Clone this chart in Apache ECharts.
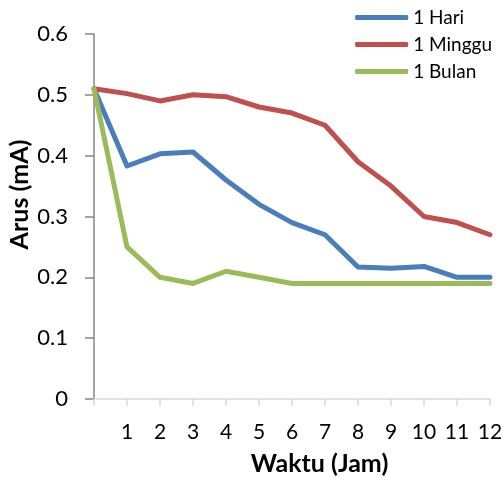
<!DOCTYPE html>
<html>
<head>
<meta charset="utf-8">
<script src="https://cdn.jsdelivr.net/npm/echarts@6/dist/echarts.min.js"></script>
<style>
  html, body { margin: 0; padding: 0; background: #fff; }
  #chart { width: 503px; height: 478px; }
</style>
</head>
<body>
<div id="chart"></div>
<script>
// Hours after start (x) and measured current in mA for each storage period
const hours = [0, 1, 2, 3, 4, 5, 6, 7, 8, 9, 10, 11, 12];
const hari   = [0.51, 0.383, 0.403, 0.406, 0.36, 0.32, 0.29, 0.27, 0.217, 0.215, 0.218, 0.20, 0.20];
const minggu = [0.51, 0.502, 0.49, 0.50, 0.497, 0.48, 0.47, 0.45, 0.39, 0.35, 0.30, 0.29, 0.27];
const bulan  = [0.51, 0.25, 0.20, 0.19, 0.21, 0.20, 0.19, 0.19, 0.19, 0.19, 0.19, 0.19, 0.19];
const seriesNames = ['1 Hari', '1 Minggu', '1 Bulan'];
const yTicks = [0, 0.1, 0.2, 0.3, 0.4, 0.5, 0.6];

const FONT = 'Lato, "Open Sans", sans-serif';
const colors = ['#4A7EBB', '#C0504D', '#9BBB59'];

function pairs(ys) { return hours.map((h, i) => [h, ys[i]]); }

const chart = echarts.init(document.getElementById('chart'));
chart.setOption({
  animation: false,
  color: colors,
  textStyle: { fontFamily: FONT },
  grid: { left: 94, right: 13, top: 34, bottom: 79, containLabel: false, outerBoundsMode: 'none' },
  legend: {
    orient: 'vertical',
    right: 11,
    top: 8,
    padding: 0,
    itemWidth: 53,
    itemHeight: 5,
    itemGap: 8,
    icon: 'roundRect',
    textStyle: { fontSize: 19, color: '#000', fontFamily: FONT },
    data: seriesNames
  },
  xAxis: {
    type: 'value',
    min: 0, max: 12, interval: 1,
    name: 'Waktu (Jam)',
    nameLocation: 'middle',
    nameGap: 52,
    nameMoveOverlap: false,
    nameTextStyle: { fontSize: 25, fontWeight: 'bold', color: '#000', padding: [0, 0, 0, 55] },
    axisLine: { show: true, lineStyle: { color: '#D9D9D9', width: 1.5 } },
    axisTick: { show: true, length: 7, lineStyle: { color: '#D9D9D9', width: 1.5 } },
    axisLabel: {
      fontSize: 21, color: '#000', margin: 23,
      formatter: v => (v === 0 ? '' : String(v))
    },
    splitLine: { show: false }
  },
  yAxis: {
    type: 'value',
    min: yTicks[0], max: yTicks[yTicks.length - 1], interval: 0.1,
    name: 'Arus (mA)',
    nameLocation: 'middle',
    nameGap: 62,
    nameMoveOverlap: false,
    nameRotate: 90,
    nameTextStyle: { fontSize: 25, fontWeight: 'bold', color: '#000', padding: [0, 0, 0, 44] },
    axisLine: { show: true, lineStyle: { color: '#868686', width: 1.5 } },
    axisTick: { show: true, length: 9, lineStyle: { color: '#868686', width: 1.5 } },
    axisLabel: {
      fontSize: 22, color: '#000', margin: 26,
      formatter: v => (v === 0 ? '0' : v.toFixed(1))
    },
    splitLine: { show: false }
  },
  series: [
    { name: seriesNames[0], type: 'line', data: pairs(hari) },
    { name: seriesNames[1], type: 'line', data: pairs(minggu) },
    { name: seriesNames[2], type: 'line', data: pairs(bulan) }
  ].map(s => Object.assign(s, {
    showSymbol: false,
    symbol: 'none',
    lineStyle: { width: 5, cap: 'round', join: 'round' },
    z: 2
  }))
});
</script>
</body>
</html>
